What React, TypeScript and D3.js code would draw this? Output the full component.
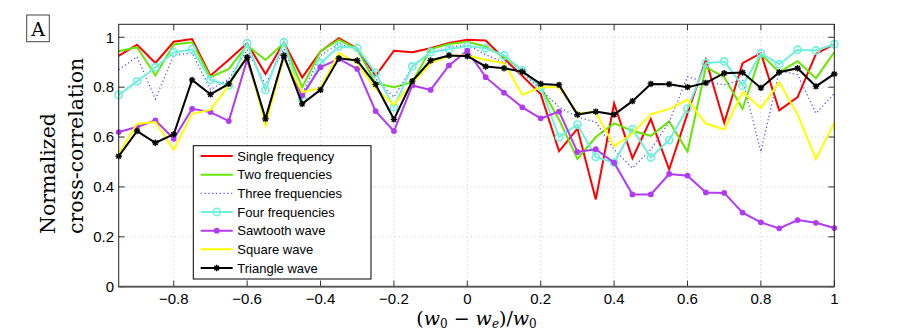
import React from 'react';
import * as d3 from 'd3';

// normalized frequency offset (w0 - we)/w0
const offsets = [
  -0.95, -0.9, -0.85, -0.8, -0.75, -0.7, -0.65, -0.6, -0.55, -0.5,
  -0.45, -0.4, -0.35, -0.3, -0.25, -0.2, -0.15, -0.1, -0.05, 0,
  0.05, 0.1, 0.15, 0.2, 0.25, 0.3, 0.35, 0.4, 0.45, 0.5,
  0.55, 0.6, 0.65, 0.7, 0.75, 0.8, 0.85, 0.9, 0.95, 1,
];

const singleFreq = [
  0.925, 0.970, 0.897, 0.982, 0.993, 0.846, 0.910, 0.976, 0.853, 0.980,
  0.838, 0.943, 0.996, 0.955, 0.845, 0.946, 0.940, 0.956, 0.977, 0.990,
  0.987, 0.915, 0.845, 0.772, 0.543, 0.634, 0.350, 0.735, 0.515, 0.672,
  0.470, 0.695, 0.910, 0.657, 0.896, 0.936, 0.707, 0.760, 0.933, 0.973,
];
const twoFreq = [
  0.944, 0.960, 0.847, 0.971, 0.980, 0.840, 0.873, 0.967, 0.909, 0.977,
  0.800, 0.944, 0.990, 0.953, 0.816, 0.800, 0.820, 0.953, 0.973, 0.982,
  0.963, 0.920, 0.867, 0.800, 0.670, 0.512, 0.600, 0.655, 0.625, 0.605,
  0.662, 0.542, 0.880, 0.840, 0.713, 0.933, 0.860, 0.904, 0.836, 0.940,
];
const threeFreq = [
  0.870, 0.922, 0.752, 0.928, 0.938, 0.790, 0.833, 0.950, 0.810, 0.953,
  0.773, 0.927, 0.973, 0.953, 0.833, 0.760, 0.880, 0.940, 0.960, 0.970,
  0.930, 0.900, 0.860, 0.790, 0.720, 0.680, 0.660, 0.550, 0.475, 0.550,
  0.660, 0.842, 0.820, 0.810, 0.830, 0.541, 0.865, 0.850, 0.695, 0.775,
];
const fourFreq = [
  0.769, 0.823, 0.880, 0.939, 0.952, 0.829, 0.807, 0.976, 0.789, 0.980,
  0.753, 0.896, 0.963, 0.957, 0.857, 0.720, 0.883, 0.940, 0.952, 0.965,
  0.956, 0.927, 0.867, 0.800, 0.600, 0.650, 0.520, 0.497, 0.632, 0.518,
  0.588, 0.714, 0.896, 0.903, 0.806, 0.935, 0.892, 0.950, 0.947, 0.972,
];
const sawtooth = [
  0.620, 0.640, 0.667, 0.593, 0.713, 0.700, 0.664, 0.910, 0.673, 0.920,
  0.767, 0.880, 0.913, 0.873, 0.704, 0.624, 0.807, 0.789, 0.887, 0.946,
  0.840, 0.778, 0.719, 0.675, 0.702, 0.540, 0.551, 0.497, 0.370, 0.370,
  0.452, 0.445, 0.378, 0.376, 0.297, 0.258, 0.234, 0.267, 0.256, 0.235,
];
const square = [
  0.533, 0.653, 0.660, 0.549, 0.693, 0.709, 0.807, 0.927, 0.647, 0.920,
  0.780, 0.797, 0.936, 0.896, 0.793, 0.729, 0.816, 0.896, 0.927, 0.927,
  0.910, 0.896, 0.770, 0.800, 0.800, 0.695, 0.700, 0.563, 0.614, 0.692,
  0.712, 0.750, 0.654, 0.630, 0.780, 0.716, 0.819, 0.690, 0.512, 0.657,
];
const triangle = [
  0.523, 0.624, 0.577, 0.611, 0.829, 0.771, 0.813, 0.920, 0.673, 0.927,
  0.733, 0.789, 0.916, 0.907, 0.811, 0.671, 0.824, 0.907, 0.927, 0.924,
  0.883, 0.876, 0.862, 0.813, 0.809, 0.690, 0.702, 0.690, 0.744, 0.813,
  0.812, 0.800, 0.817, 0.856, 0.859, 0.797, 0.860, 0.876, 0.803, 0.853,
];

const xTicks = [-0.8, -0.6, -0.4, -0.2, 0, 0.2, 0.4, 0.6, 0.8, 1];
const yTicks = [0, 0.2, 0.4, 0.6, 0.8, 1];

const series = [
  { name: 'Single frequency', values: singleFreq, color: '#ff0000', dash: null, marker: null },
  { name: 'Two frequencies', values: twoFreq, color: '#66e600', dash: null, marker: null },
  { name: 'Three frequencies', values: threeFreq, color: '#4d4dff', dash: '1.2 2.6', marker: null },
  { name: 'Four frequencies', values: fourFreq, color: '#6ff0dc', dash: null, marker: 'circle' },
  { name: 'Sawtooth wave', values: sawtooth, color: '#b23af2', dash: null, marker: 'dot' },
  { name: 'Square wave', values: square, color: '#ffff00', dash: null, marker: null },
  { name: 'Triangle wave', values: triangle, color: '#000000', dash: null, marker: 'star' },
];

const left = 118.7, right = 834.3, top = 24.3, bottom = 286.7;
const fmt = (t: number) => String(t).replace('-', '\u2212');

function Marker({ kind, cx, cy, color }: { kind: string | null; cx: number; cy: number; color: string }) {
  if (kind === 'circle')
    return <circle cx={cx} cy={cy} r={3.6} fill="none" stroke={color} strokeWidth={1.6} />;
  if (kind === 'dot') return <circle cx={cx} cy={cy} r={2.9} fill={color} />;
  if (kind === 'star') {
    const s = 3.2, d = 2.3;
    return (
      <path
        d={`M${cx - s},${cy}L${cx + s},${cy}M${cx},${cy - s}L${cx},${cy + s}M${cx - d},${cy - d}L${cx + d},${cy + d}M${cx - d},${cy + d}L${cx + d},${cy - d}`}
        stroke={color}
        strokeWidth={1.4}
      />
    );
  }
  return null;
}

export default function App() {
  const x = d3.scaleLinear().domain([-0.95, 1]).range([left, right]);
  const y = d3.scaleLinear().domain([0, 1.052]).range([bottom, top]);
  const line = d3
    .line<number>()
    .x((_, i) => x(offsets[i]))
    .y((d) => y(d));

  const sans = '"Liberation Sans", Arial, Helvetica, sans-serif';
  const serif = '"DejaVu Serif", serif';

  const legX = 193.3, legY = 145.7, legW = 177.7, legH = 133.3, rowH = 18.67;

  return (
    <svg
      width={921}
      height={332}
      style={{ position: 'absolute', left: 0, top: 0, background: '#fff' }}
    >
      <rect x={0} y={0} width={921} height={332} fill="#fff" />

      {/* panel letter */}
      <rect x={26.7} y={15} width={22.6} height={26.7} fill="#fff" stroke="#444" strokeWidth={1} />
      <text x={38} y={35.5} textAnchor="middle" fontFamily={serif} fontSize={19}>
        A
      </text>

      {/* grid */}
      <g stroke="#c4c4c4" strokeWidth={1} strokeDasharray="1 3">
        {xTicks.map((t) => (
          <line key={'gx' + t} x1={x(t)} x2={x(t)} y1={top} y2={bottom} />
        ))}
        {yTicks.map((t) => (
          <line key={'gy' + t} x1={left} x2={right} y1={y(t)} y2={y(t)} />
        ))}
      </g>

      {/* ticks, inward on all four sides */}
      <g stroke="#333" strokeWidth={1}>
        {xTicks.map((t) => (
          <g key={'tx' + t}>
            <line x1={x(t)} x2={x(t)} y1={bottom} y2={bottom - 6} />
            <line x1={x(t)} x2={x(t)} y1={top} y2={top + 6} />
          </g>
        ))}
        {yTicks.map((t) => (
          <g key={'ty' + t}>
            <line x1={left} x2={left + 6} y1={y(t)} y2={y(t)} />
            <line x1={right} x2={right - 6} y1={y(t)} y2={y(t)} />
          </g>
        ))}
      </g>

      {/* data */}
      {series.map((s) => (
        <g key={s.name}>
          <path
            d={line(s.values) || ''}
            fill="none"
            stroke={s.color}
            strokeWidth={s.dash ? 1.3 : 2}
            strokeDasharray={s.dash || undefined}
            strokeLinejoin="miter"
          />
          {s.marker &&
            s.values.map((v, i) => (
              <Marker key={i} kind={s.marker} cx={x(offsets[i])} cy={y(v)} color={s.color} />
            ))}
        </g>
      ))}

      {/* axes box */}
      <rect x={left} y={top} width={right - left} height={bottom - top} fill="none" stroke="#222" strokeWidth={1} />
      <line x1={left} x2={right} y1={bottom} y2={bottom} stroke="#555" strokeWidth={1.8} />

      {/* tick labels */}
      <g fontFamily={sans} fontSize={15} fill="#000">
        {xTicks.map((t) => (
          <text key={'lx' + t} x={x(t)} y={303.5} textAnchor="middle">
            {fmt(t)}
          </text>
        ))}
        {yTicks.map((t) => (
          <text key={'ly' + t} x={114} y={y(t) + 5.3} textAnchor="end">
            {fmt(t)}
          </text>
        ))}
      </g>

      {/* axis titles */}
      <g fontFamily={serif} fontSize={20.5} fill="#000">
        <text transform="translate(55,234) rotate(-90)">Normalized</text>
        <text transform="translate(83,234) rotate(-90)">cross-correlation</text>
      </g>
      <text x={(left + right) / 2} y={325} textAnchor="middle" fontFamily={serif} fontSize={19}>
        (<tspan fontStyle="italic">w</tspan>
        <tspan fontSize={12} dy={3}>0</tspan>
        <tspan dy={-3}> − </tspan>
        <tspan fontStyle="italic">w</tspan>
        <tspan fontSize={12} fontStyle="italic" dy={3}>e</tspan>
        <tspan dy={-3}>)/</tspan>
        <tspan fontStyle="italic">w</tspan>
        <tspan fontSize={12} dy={3}>0</tspan>
      </text>

      {/* legend */}
      <rect x={legX} y={legY} width={legW} height={legH} fill="#fff" stroke="#000" strokeWidth={1} />
      {series.map((s, i) => {
        const cy = legY + 10.3 + i * rowH;
        return (
          <g key={'leg' + s.name}>
            <line
              x1={200.7}
              x2={232.7}
              y1={cy}
              y2={cy}
              stroke={s.color}
              strokeWidth={s.dash ? 1.3 : 2}
              strokeDasharray={s.dash || undefined}
            />
            <Marker kind={s.marker} cx={216.7} cy={cy} color={s.color} />
            <text x={237.3} y={cy + 4.7} fontFamily={sans} fontSize={13} fill="#000">
              {s.name}
            </text>
          </g>
        );
      })}
    </svg>
  );
}
